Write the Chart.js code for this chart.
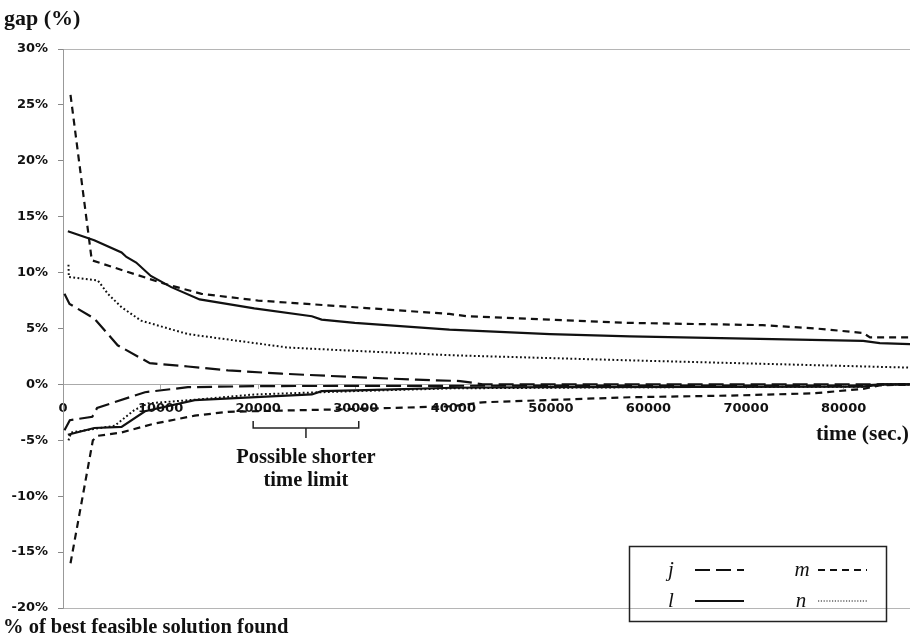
<!DOCTYPE html>
<html>
<head>
<meta charset="utf-8">
<script src="https://cdn.jsdelivr.net/npm/chart.js@4.4.1/dist/chart.umd.min.js"></script>
<style>
  html, body { margin: 0; padding: 0; background: #fff; }
  #wrap { width: 910px; height: 640px; }
</style>
</head>
<body>
<div id="wrap"><canvas id="gapChart"></canvas></div>
<script>
  // j: gap (upper) and % of best solution found (lower)
  const jUpTime = [150, 670, 3200, 5600, 8900, 12800, 16900, 22400, 29900, 36200, 40700, 42000, 43000, 86800];
  const jUpGap = [8.1, 7.2, 5.9, 3.5, 1.9, 1.6, 1.25, 0.96, 0.65, 0.42, 0.3, 0.15, 0, 0];
  const jLowTime = [150, 700, 3000, 3500, 8400, 12800, 20000, 42000, 82000, 84000, 86800];
  const jLowGap = [-4.1, -3.2, -2.9, -2.1, -0.7, -0.25, -0.15, -0.12, -0.1, 0, 0];

  // l
  const lUpTime = [500, 3200, 6000, 6500, 7500, 9000, 11100, 14000, 19600, 25500, 26500, 29900, 39600, 49900, 58100, 82000, 83700, 86800];
  const lUpGap = [13.7, 12.9, 11.8, 11.4, 10.9, 9.7, 8.7, 7.6, 6.8, 6.1, 5.8, 5.5, 4.9, 4.5, 4.3, 3.9, 3.7, 3.6];
  const lLowTime = [500, 3200, 6000, 8400, 13500, 25500, 26500, 29900, 40000, 50000, 82000, 84000, 86800];
  const lLowGap = [-4.5, -3.9, -3.8, -2.4, -1.4, -0.9, -0.6, -0.54, -0.3, -0.25, -0.2, 0, 0];

  // m
  const mUpTime = [770, 2950, 10400, 14200, 20000, 29900, 39600, 41400, 58100, 71700, 77200, 82000, 82700, 86800];
  const mUpGap = [25.9, 11.1, 9.0, 8.1, 7.5, 6.9, 6.3, 6.1, 5.5, 5.3, 5.0, 4.6, 4.2, 4.2];
  const mLowTime = [770, 3060, 3570, 6000, 9400, 13500, 16900, 29900, 40000, 43000, 58100, 68400, 76900, 82000, 83700, 86800];
  const mLowGap = [-16.0, -5.0, -4.6, -4.3, -3.5, -2.8, -2.45, -2.2, -1.95, -1.6, -1.15, -1.0, -0.8, -0.4, -0.1, 0];

  // n
  const nUpTime = [560, 600, 3570, 4600, 6000, 8000, 12800, 23000, 29900, 40000, 58100, 86800];
  const nUpGap = [10.7, 9.6, 9.3, 8.1, 6.9, 5.7, 4.5, 3.3, 3.0, 2.6, 2.15, 1.5];
  const nLowTime = [560, 840, 5300, 7300, 8700, 14500, 19600, 29900, 40000, 60000, 82000, 84000, 86800];
  const nLowGap = [-5.0, -4.3, -3.7, -2.3, -1.7, -1.3, -0.9, -0.6, -0.35, -0.25, -0.2, 0, 0];

  const xTicks = [0, 10000, 20000, 30000, 40000, 50000, 60000, 70000, 80000];

  // estilos de línea por serie
  const estilos = {
    j: { dash: [15, 6], width: 2.2 },
    l: { dash: [], width: 2.2 },
    m: { dash: [7, 5], width: 2.2 },
    n: { dash: [1.8, 2.4], width: 2 }
  };

  function pts(t, v) {
    return t.map((x, i) => ({ x: x, y: v[i] }));
  }

  function dataset(name, t, v) {
    return {
      label: name,
      data: pts(t, v),
      borderColor: '#111',
      borderWidth: estilos[name].width,
      borderDash: estilos[name].dash,
      pointRadius: 0,
      tension: 0,
      fill: false
    };
  }

  const datasets = [
    dataset('m', mUpTime, mUpGap), dataset('m', mLowTime, mLowGap),
    dataset('l', lUpTime, lUpGap), dataset('l', lLowTime, lLowGap),
    dataset('n', nUpTime, nUpGap), dataset('n', nLowTime, nLowGap),
    dataset('j', jUpTime, jUpGap), dataset('j', jLowTime, jLowGap)
  ];

  const serif = '"Liberation Serif", "Times New Roman", serif';

  // textos, corchete y leyenda dibujados sobre el canvas
  const extras = {
    id: 'extras',
    afterDraw(chart) {
      const ctx = chart.ctx;
      ctx.save();
      ctx.fillStyle = '#111';
      ctx.textBaseline = 'middle';
      ctx.textAlign = 'left';
      ctx.font = 'bold 22px ' + serif;
      ctx.fillText('gap (%)', 4, 19);
      ctx.font = 'bold 20.5px ' + serif;
      ctx.fillText('% of best feasible solution found', 3, 628);
      ctx.textAlign = 'right';
      ctx.font = 'bold 21.5px ' + serif;
      ctx.fillText('time (sec.)', 909, 434);

      // corchete "Possible shorter time limit"
      const xs = chart.scales.x;
      const x1 = xs.getPixelForValue(20000) - 5;
      const x2 = xs.getPixelForValue(30000) + 3;
      const xm = (x1 + x2) / 2;
      ctx.strokeStyle = '#222';
      ctx.lineWidth = 1.5;
      ctx.beginPath();
      ctx.moveTo(x1, 421); ctx.lineTo(x1, 428); ctx.lineTo(x2, 428); ctx.lineTo(x2, 421);
      ctx.moveTo(xm, 428); ctx.lineTo(xm, 438);
      ctx.stroke();
      ctx.textAlign = 'center';
      ctx.font = 'bold 20.5px ' + serif;
      ctx.fillText('Possible shorter', xm, 458);
      ctx.fillText('time limit', xm, 481);

      // leyenda
      ctx.lineWidth = 1.5;
      ctx.strokeStyle = '#222';
      ctx.strokeRect(629.5, 546.5, 257, 75);
      const items = [
        { n: 'j', tx: 671, ly: 570, x0: 695 },
        { n: 'm', tx: 802, ly: 570, x0: 818 },
        { n: 'l', tx: 671, ly: 601, x0: 695 },
        { n: 'n', tx: 801, ly: 601, x0: 818 }
      ];
      ctx.font = 'italic 21px ' + serif;
      items.forEach(it => {
        ctx.fillStyle = '#111';
        ctx.fillText(it.n, it.tx, it.ly);
        ctx.strokeStyle = '#111';
        ctx.lineWidth = it.n === 'n' ? 1.2 : 2;
        ctx.setLineDash(it.n === 'n' ? [1.2, 1.6] : estilos[it.n].dash);
        ctx.beginPath();
        ctx.moveTo(it.x0, it.ly);
        ctx.lineTo(it.x0 + 49, it.ly);
        ctx.stroke();
        ctx.setLineDash([]);
      });
      ctx.restore();
    }
  };

  new Chart(document.getElementById('gapChart'), {
    type: 'line',
    data: { datasets: datasets },
    plugins: [extras],
    options: {
      responsive: true,
      maintainAspectRatio: false,
      animation: false,
      layout: { padding: { left: 0, right: 0, top: 49, bottom: 32 } },
      plugins: {
        legend: { display: false },
        tooltip: { enabled: false }
      },
      scales: {
        x: {
          type: 'linear',
          position: { y: 0 },
          min: 0,
          max: 86800,
          afterBuildTicks: (scale) => {
            scale.ticks = xTicks.map(v => ({ value: v }));
          },
          ticks: {
            color: '#111',
            font: { family: '"DejaVu Sans", sans-serif', weight: 'bold', size: 13 },
            maxRotation: 0,
            padding: 12,
            callback: (v) => String(v)
          },
          grid: { drawOnChartArea: false, drawTicks: true, tickLength: 4, color: '#aaa' },
          border: { color: '#aaa', width: 1 }
        },
        y: {
          min: -20,
          max: 30,
          afterFit: (scale) => { scale.width = 63; },
          ticks: {
            stepSize: 5,
            color: '#111',
            padding: 10,
            font: { family: '"DejaVu Sans", sans-serif', weight: 'bold', size: 13 },
            callback: (v) => v + '%'
          },
          grid: {
            tickLength: 5,
            tickColor: '#888',
            color: (c) => (c.tick && (c.tick.value === 30 || c.tick.value === -20 || c.tick.value === 0)) ? '#b5b5b5' : 'rgba(0,0,0,0)'
          },
          border: { color: '#999', width: 1 }
        }
      }
    }
  });
</script>
</body>
</html>
